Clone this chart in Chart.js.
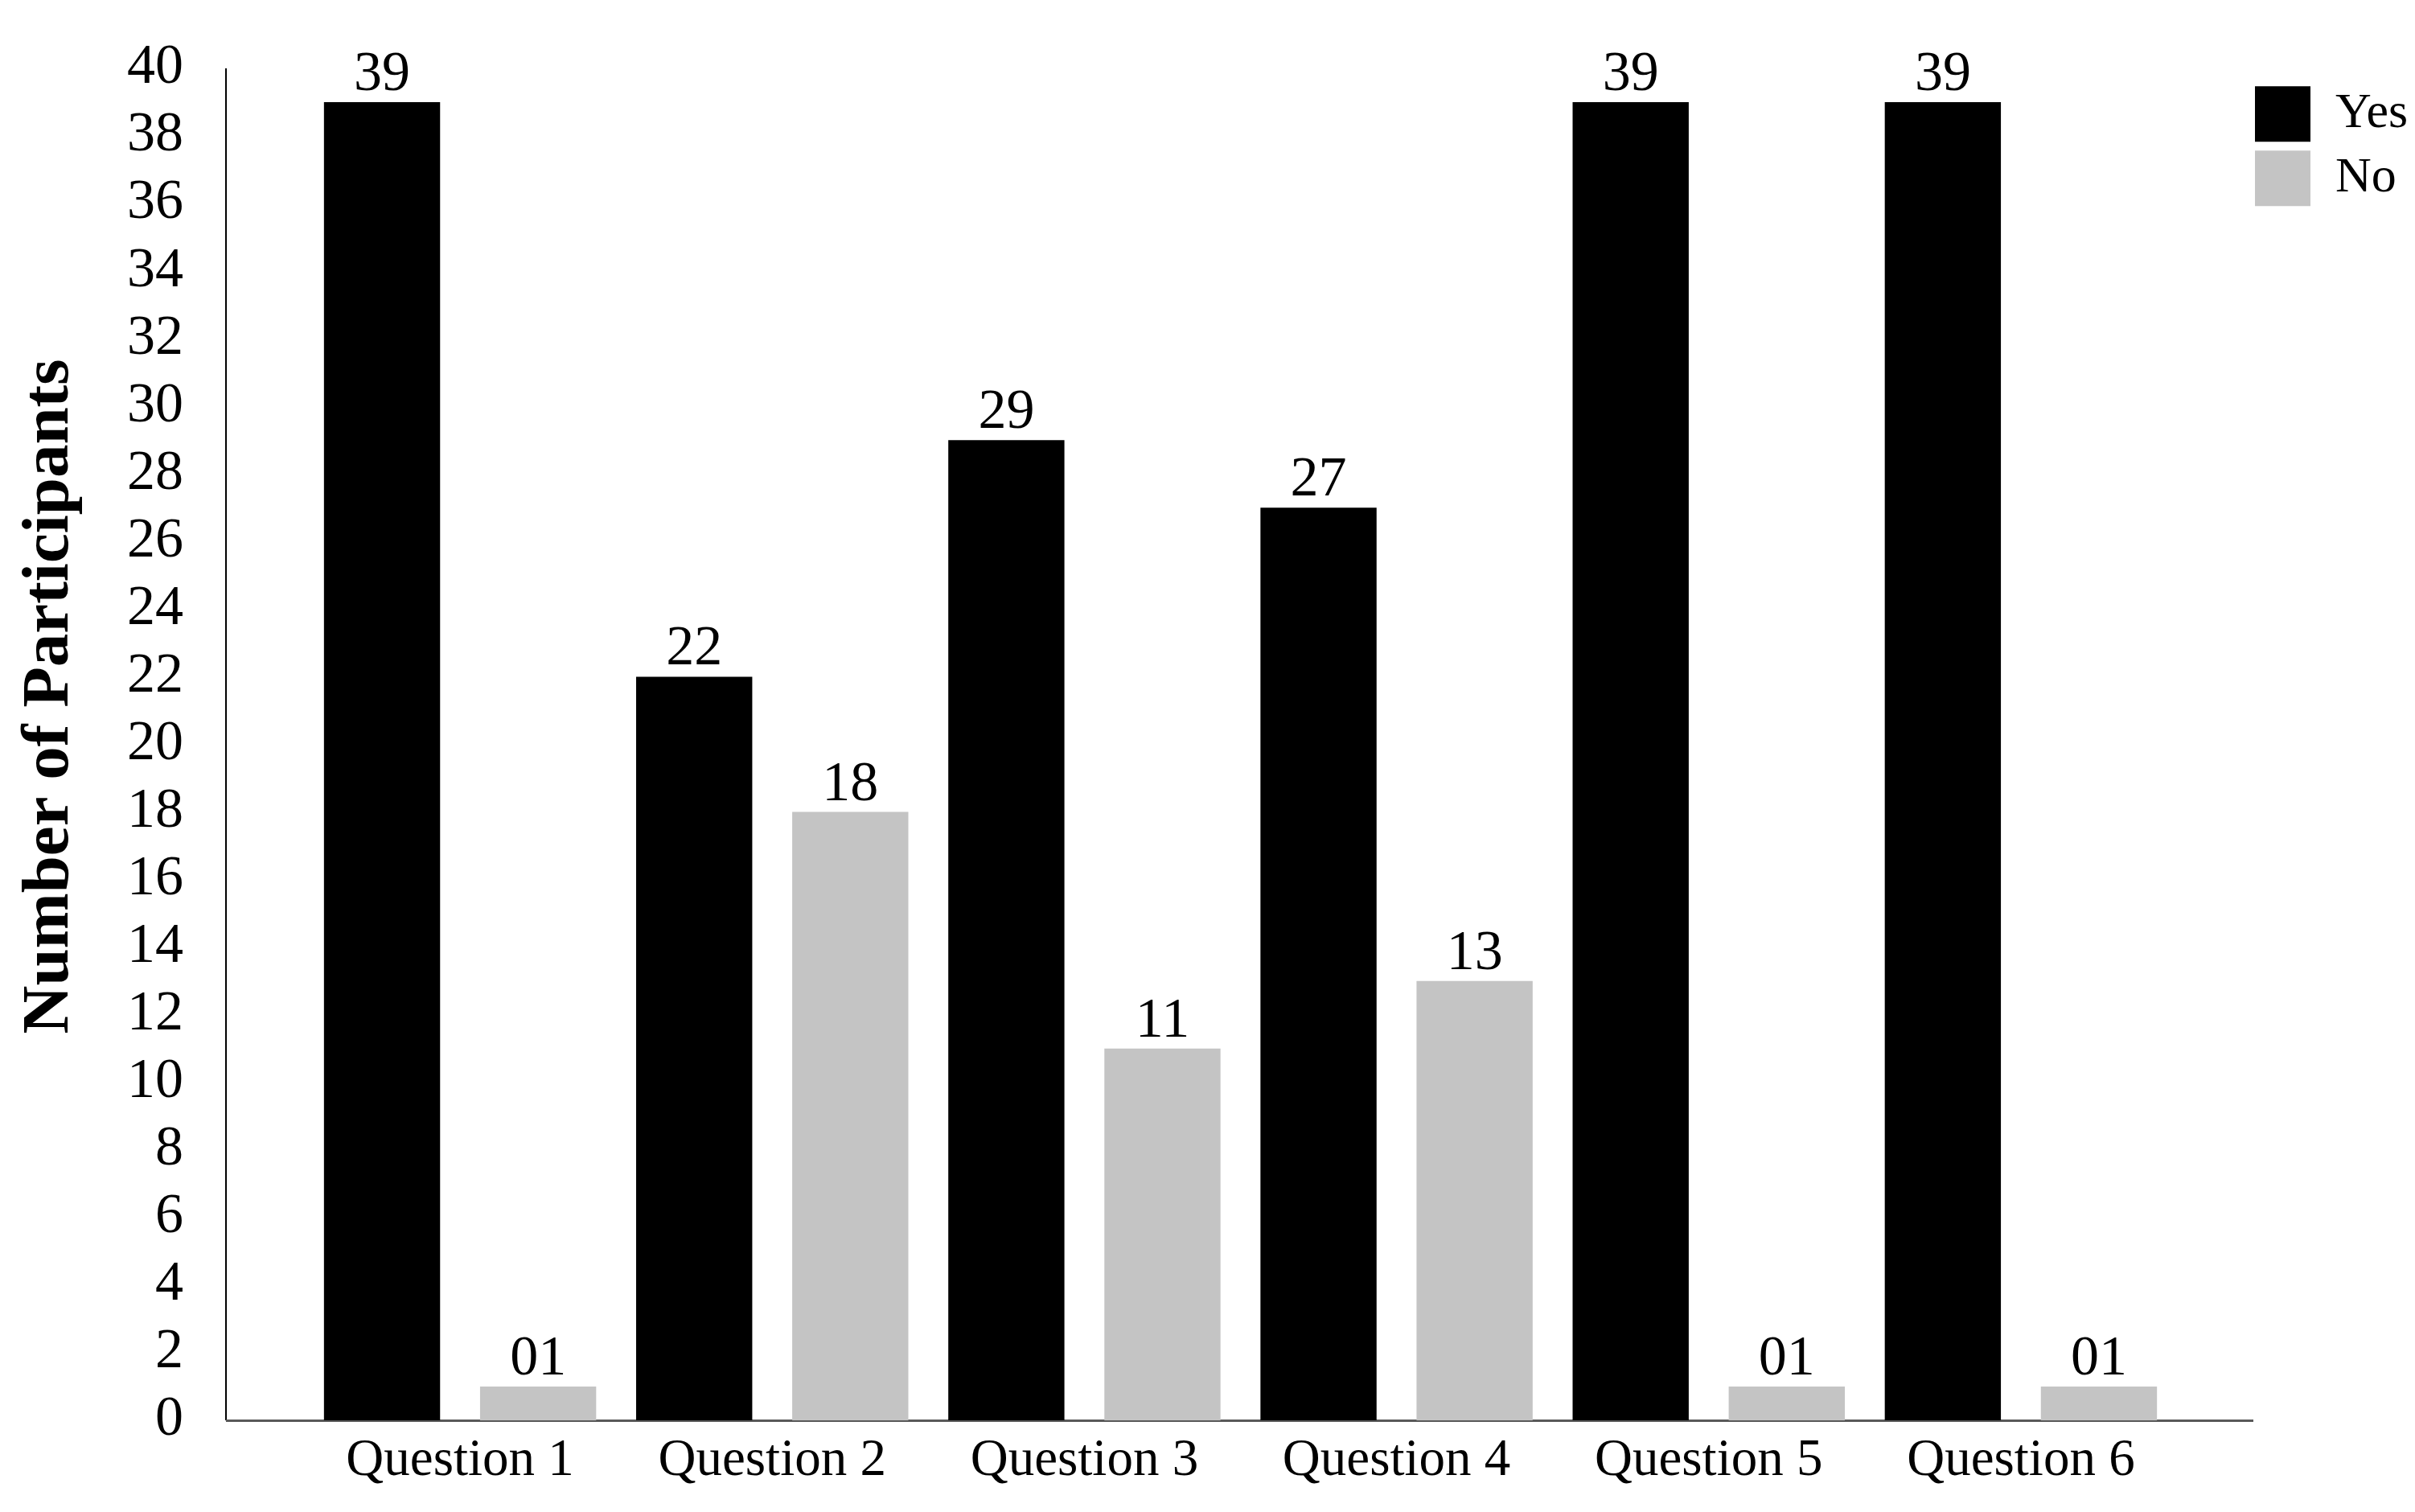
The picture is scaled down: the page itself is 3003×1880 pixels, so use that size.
<!DOCTYPE html>
<html>
<head>
<meta charset="utf-8">
<script src="https://cdn.jsdelivr.net/npm/chart.js@4.4.1/dist/chart.umd.min.js"></script>
<style>
  html, body { margin: 0; padding: 0; background: #ffffff; }
  #wrap { width: 3003px; height: 1880px; }
</style>
</head>
<body>
<div id="wrap"><canvas id="c" width="3003" height="1880"></canvas></div>
<script>
// ---- data ----
const categories = ['Question 1', 'Question 2', 'Question 3', 'Question 4', 'Question 5', 'Question 6'];
const seriesNames = ['Yes', 'No'];
const yesValues = [39, 22, 29, 27, 39, 39];
const noValues = [1, 18, 11, 13, 1, 1];
const yTickMin = 0;
const yTickMax = 40;
const yTickStep = 2;
const yAxisTitle = 'Number of Participants';

// ---- styles ----
const FONT = '"Liberation Serif", "Times New Roman", serif';
const YES_COLOR = '#000000';
const NO_COLOR = '#c4c4c4';

const pad2 = v => String(v).padStart(2, '0');

const decorPlugin = {
  id: 'decor',
  beforeDatasetsDraw(chart) {
    const { ctx, chartArea: a, scales: { y } } = chart;
    const x0 = a.left - 97, x1 = a.right + 95;
    const yb = y.getPixelForValue(yTickMin), yt = y.getPixelForValue(yTickMax);
    ctx.save();
    ctx.strokeStyle = '#000000';
    ctx.lineWidth = 2;
    ctx.beginPath(); ctx.moveTo(x0, yt); ctx.lineTo(x0, yb); ctx.stroke();
    ctx.strokeStyle = '#595959';
    ctx.lineWidth = 3;
    ctx.beginPath(); ctx.moveTo(x0, yb + 0.5); ctx.lineTo(x1, yb + 0.5); ctx.stroke();
    // y axis title
    ctx.fillStyle = '#000000';
    ctx.font = 'bold 83px ' + FONT;
    ctx.textAlign = 'center';
    ctx.textBaseline = 'middle';
    ctx.translate(63, 866);
    ctx.rotate(-Math.PI / 2);
    ctx.fillText(yAxisTitle, 0, 0);
    ctx.restore();
  },
  afterDatasetsDraw(chart) {
    const { ctx } = chart;
    ctx.save();
    ctx.fillStyle = '#000000';
    ctx.font = '70px ' + FONT;
    ctx.textAlign = 'center';
    ctx.textBaseline = 'alphabetic';
    chart.data.datasets.forEach((ds, di) => {
      const meta = chart.getDatasetMeta(di);
      meta.data.forEach((el, i) => {
        ctx.fillText(pad2(ds.data[i]), el.x, el.y - 15);
      });
    });
    ctx.restore();
  }
};

new Chart(document.getElementById('c'), {
  type: 'bar',
  data: {
    labels: categories,
    datasets: [
      { label: seriesNames[0], data: yesValues, backgroundColor: YES_COLOR, borderWidth: 0 },
      { label: seriesNames[1], data: noValues, backgroundColor: NO_COLOR, borderWidth: 0 }
    ]
  },
  options: {
    responsive: false,
    animation: false,
    devicePixelRatio: 1,
    layout: { padding: { top: 85, left: 0, right: 0, bottom: 0 } },
    datasets: { bar: { categoryPercentage: 1.0, barPercentage: 0.744 } },
    plugins: {
      legend: {
        display: true,
        position: 'right',
        align: 'start',
        maxWidth: 210,
        title: { display: true, text: '', font: { size: 1 }, padding: { top: 0, bottom: 10 } },
        labels: {
          boxWidth: 69,
          boxHeight: 69,
          padding: 11,
          color: '#000000',
          font: { family: FONT, size: 62 }
        }
      },
      tooltip: { enabled: false }
    },
    scales: {
      x: {
        grid: { display: false, drawTicks: false },
        border: { display: false },
        ticks: { color: '#000000', font: { family: FONT, size: 65 }, padding: 12, maxRotation: 0, autoSkip: false },
        afterFit(s) { s.height = 114; }
      },
      y: {
        min: yTickMin,
        max: yTickMax,
        grid: { display: false, drawTicks: true, tickLength: 150 },
        border: { display: false },
        ticks: { stepSize: yTickStep, color: '#000000', font: { family: FONT, size: 70 }, padding: 0, autoSkip: false },
        afterFit(s) { s.width = 378; }
      },
      spacer: {
        type: 'linear',
        position: 'right',
        display: true,
        grid: { display: false, drawTicks: false },
        border: { display: false },
        ticks: { display: false, padding: 0 },
        afterFit(s) { s.width = 86; }
      }
    }
  },
  plugins: [decorPlugin]
});
</script>
</body>
</html>
